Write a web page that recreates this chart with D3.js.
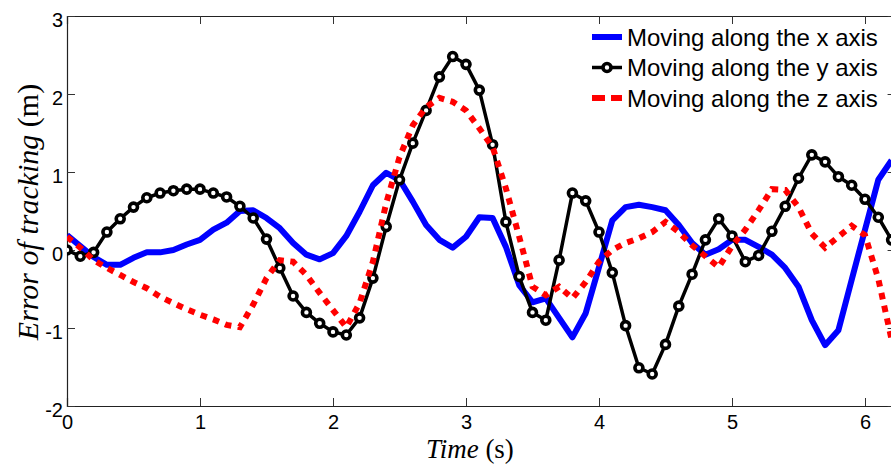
<!DOCTYPE html>
<html>
<head>
<meta charset="utf-8">
<script src="https://cdn.jsdelivr.net/npm/d3@7/dist/d3.min.js"></script>
<style>
  html, body { margin: 0; padding: 0; background: #fff; }
  svg { display: block; }
</style>
</head>
<body>
<svg id="chart" width="891" height="464"></svg>
<script>
// ---- data ----
const times = d3.range(0, 63).map(i => +(i * 0.1).toFixed(1)); // 0.0 .. 6.2 s
const seriesX = [0.19,0.05,-0.09,-0.19,-0.19,-0.10,-0.03,-0.03,0.00,0.07,
                 0.13,0.26,0.35,0.50,0.51,0.41,0.28,0.09,-0.06,-0.12,
                 -0.04,0.18,0.49,0.83,0.99,0.90,0.62,0.32,0.13,0.03,
                 0.17,0.42,0.41,0.04,-0.45,-0.67,-0.62,-0.87,-1.12,-0.81,
                 -0.22,0.38,0.55,0.58,0.55,0.51,0.32,0.09,-0.06,0.01,
                 0.13,0.13,0.04,-0.06,-0.23,-0.47,-0.90,-1.22,-1.03,-0.38,
                 0.26,0.90,1.15];
const seriesY = [0.00,-0.08,-0.03,0.23,0.40,0.55,0.67,0.73,0.76,0.78,
                 0.78,0.73,0.68,0.56,0.41,0.14,-0.23,-0.59,-0.80,-0.94,
                 -1.05,-1.09,-0.87,-0.36,0.30,0.90,1.37,1.79,2.22,2.48,
                 2.38,2.05,1.35,0.36,-0.34,-0.80,-0.90,-0.13,0.73,0.63,
                 0.23,-0.29,-0.97,-1.51,-1.59,-1.21,-0.72,-0.31,0.13,0.40,
                 0.18,-0.15,-0.07,0.24,0.56,0.92,1.22,1.13,0.94,0.83,
                 0.65,0.42,0.13];
const seriesZ = [0.17,0.03,-0.13,-0.23,-0.32,-0.41,-0.49,-0.60,-0.68,-0.76,
                 -0.83,-0.89,-0.96,-0.99,-0.70,-0.36,-0.13,-0.15,-0.32,-0.55,
                 -0.77,-0.99,-0.68,-0.15,0.60,1.19,1.60,1.83,1.95,1.90,
                 1.79,1.56,1.32,0.79,0.17,-0.47,-0.58,-0.47,-0.62,-0.41,
                 -0.15,0.00,0.09,0.15,0.23,0.36,0.23,0.06,-0.08,-0.22,
                 0.05,0.26,0.51,0.78,0.77,0.55,0.21,0.03,0.17,0.31,
                 0.19,-0.37,-1.15];
const xTicks = [0,1,2,3,4,5,6];
const yTicks = [-2,-1,0,1,2,3];
const legendLabels = ["Moving along the x axis","Moving along the y axis","Moving along the z axis"];

// ---- layout ----
const svg = d3.select("#chart");
const L = 67, T = 16, B = 406;
const x = d3.scaleLinear().domain([0, 6.23]).range([L, L + 133 * 6.23]);
const y = d3.scaleLinear().domain([-2, 3]).range([B, T]);
const R = x.range()[1];

svg.append("defs").append("clipPath").attr("id","clip")
  .append("rect").attr("x", L).attr("y", T).attr("width", R - L).attr("height", B - T);

// axes (ticks inward)
const tickLen = 8;
const fmt = d => String(d);
const axisG = svg.append("g");
const xb = axisG.append("g").attr("transform", `translate(0,${B})`)
  .call(d3.axisBottom(x).tickValues(xTicks).tickSize(-tickLen).tickFormat(fmt));
const xt = axisG.append("g").attr("transform", `translate(0,${T})`)
  .call(d3.axisTop(x).tickValues(xTicks).tickSize(-tickLen).tickFormat(""));
const yl = axisG.append("g").attr("transform", `translate(${L},0)`)
  .call(d3.axisLeft(y).tickValues(yTicks).tickSize(-tickLen).tickFormat(fmt));
const yr = axisG.append("g").attr("transform", `translate(${R},0)`)
  .call(d3.axisRight(y).tickValues(yTicks).tickSize(-tickLen).tickFormat(""));

axisG.selectAll(".domain").attr("stroke", "#222").attr("stroke-width", 1.2);
axisG.selectAll(".tick line").attr("stroke", "#333").attr("stroke-width", 1);
xb.selectAll(".tick text").attr("font-family", "Liberation Sans, Arial, sans-serif")
  .attr("font-size", 20).attr("fill", "#000").attr("y", 9).attr("dy", "0.71em");
yl.selectAll(".tick text").attr("font-family", "Liberation Sans, Arial, sans-serif")
  .attr("font-size", 20).attr("fill", "#000").attr("x", -4).attr("dy", "0.5em");

// lines
const lineGen = vals => d3.line().x((d, i) => x(times[i])).y(d => y(d))(vals);
const plotG = svg.append("g").attr("clip-path", "url(#clip)");

plotG.append("path").attr("d", lineGen(seriesX))
  .attr("fill", "none").attr("stroke", "#0000ff").attr("stroke-width", 6).attr("stroke-linejoin", "round");

plotG.append("path").attr("d", lineGen(seriesY))
  .attr("fill", "none").attr("stroke", "#000").attr("stroke-width", 3.5).attr("stroke-linejoin", "round");
plotG.selectAll("circle.m").data(seriesY).enter().append("circle")
  .attr("class", "m")
  .attr("cx", (d, i) => x(times[i])).attr("cy", d => y(d)).attr("r", 4)
  .attr("fill", "#fff").attr("stroke", "#000").attr("stroke-width", 3.6);

plotG.append("path").attr("d", lineGen(seriesZ))
  .attr("fill", "none").attr("stroke", "#ff0000").attr("stroke-width", 6)
  .attr("stroke-dasharray", "6.5,6.5");

// axis labels
svg.append("text").attr("x", 470).attr("y", 457.5).attr("text-anchor", "middle")
  .attr("font-family", "Liberation Serif, Times New Roman, serif").attr("font-size", 27)
  .html('<tspan font-style="italic">Time</tspan> (s)');
svg.append("text").attr("transform", "translate(38,212) rotate(-90)").attr("text-anchor", "middle")
  .attr("font-family", "Liberation Serif, Times New Roman, serif").attr("font-size", 30)
  .html('<tspan font-style="italic">Error of tracking</tspan> (m)');

// legend
const legColors = ["#0000ff", "#000", "#ff0000"];
const legG = svg.append("g");
legendLabels.forEach((lab, i) => {
  const ly = 37 + i * 30.5;
  const ln = legG.append("line").attr("x1", 592).attr("x2", 622).attr("y1", ly).attr("y2", ly)
    .attr("stroke", legColors[i]);
  if (i === 0) ln.attr("stroke-width", 6);
  if (i === 1) {
    ln.attr("stroke-width", 3.5);
    legG.append("circle").attr("cx", 607).attr("cy", ly).attr("r", 4)
      .attr("fill", "#fff").attr("stroke", "#000").attr("stroke-width", 3.6);
  }
  if (i === 2) ln.attr("stroke-width", 6).attr("stroke-dasharray", "13,6,13");
  legG.append("text").attr("x", 627).attr("y", ly + 8.5)
    .attr("font-family", "Liberation Sans, Arial, sans-serif").attr("font-size", 24).attr("fill", "#000")
    .text(lab);
});
</script>
</body>
</html>
